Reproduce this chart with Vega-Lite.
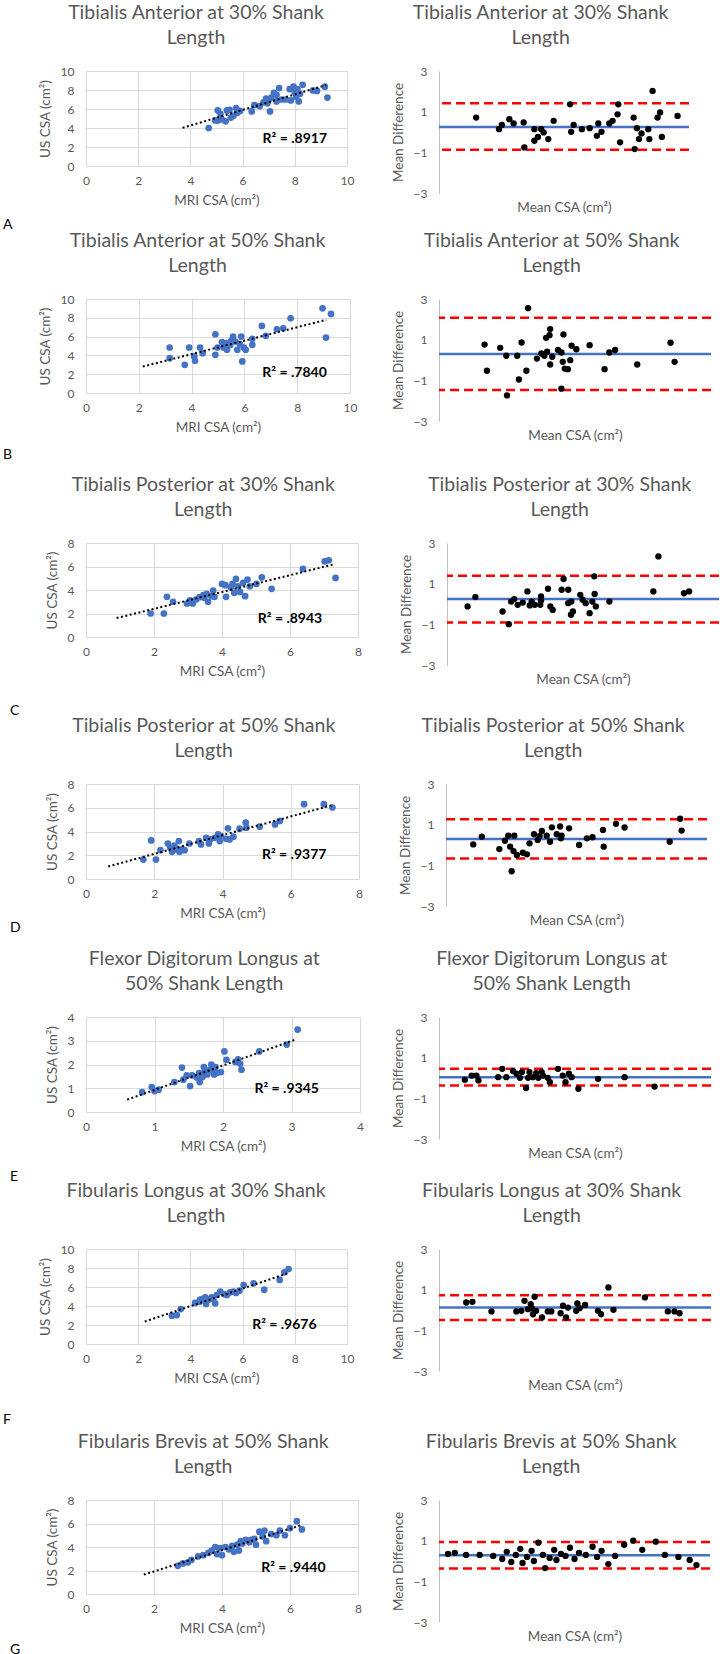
{
"$schema": "https://vega.github.io/schema/vega-lite/v6.json",
"background": "white",
"padding": {"left": 3, "top": 2, "right": 0, "bottom": 0},
"config": {
  "font": "Lato",
  "view": {"stroke": null},
  "axis": {"ticks": false, "labelColor": "#595959", "titleColor": "#595959", "labelFontSize": 12, "titleFontSize": 13.5, "titleFontWeight": "normal", "gridColor": "#d9d9d9", "gridWidth": 1, "labelFont": "Lato", "titleFont": "Lato", "labelOverlap": false, "labelFlush": false, "labelSeparation": 0, "format": "d"},
  "axisX": {"labelPadding": 9, "titlePadding": 7},
  "axisY": {"labelPadding": 12, "titlePadding": 8},
  "title": {"fontSize": 19.5, "fontWeight": "normal", "color": "#595959", "frame": "bounds", "lineHeight": 25, "font": "Lato"}
},
"datasets": {
"aL": [{"mri":4.7,"us":4.0},{"mri":4.95,"us":4.8},{"mri":5.05,"us":5.85},{"mri":5.05,"us":4.8},{"mri":5.15,"us":5.5},{"mri":5.2,"us":4.9},{"mri":5.35,"us":4.7},{"mri":5.4,"us":5.85},{"mri":5.5,"us":5.9},{"mri":5.55,"us":5.1},{"mri":5.65,"us":5.3},{"mri":5.75,"us":6.1},{"mri":5.8,"us":5.6},{"mri":5.9,"us":5.8},{"mri":6.35,"us":5.75},{"mri":6.45,"us":6.4},{"mri":6.65,"us":6.3},{"mri":6.8,"us":6.7},{"mri":6.9,"us":7.1},{"mri":6.95,"us":6.6},{"mri":7.0,"us":6.95},{"mri":7.05,"us":5.75},{"mri":7.1,"us":7.2},{"mri":7.2,"us":7.7},{"mri":7.3,"us":6.8},{"mri":7.3,"us":7.5},{"mri":7.4,"us":8.2},{"mri":7.5,"us":7.0},{"mri":7.65,"us":7.0},{"mri":7.8,"us":8.1},{"mri":7.85,"us":6.9},{"mri":7.95,"us":8.35},{"mri":8.0,"us":7.8},{"mri":8.05,"us":7.3},{"mri":8.1,"us":8.1},{"mri":8.15,"us":6.8},{"mri":8.2,"us":7.6},{"mri":8.3,"us":8.55},{"mri":8.7,"us":7.95},{"mri":8.85,"us":7.9},{"mri":9.15,"us":8.35},{"mri":9.25,"us":7.2}],
"aR": [{"mean":4.04,"diff":0.71},{"mean":4.68,"diff":0.14},{"mean":4.76,"diff":0.35},{"mean":4.97,"diff":0.63},{"mean":5.09,"diff":0.42},{"mean":5.37,"diff":0.47},{"mean":5.39,"diff":-0.76},{"mean":5.67,"diff":0.14},{"mean":5.67,"diff":-0.43},{"mean":5.77,"diff":-0.24},{"mean":5.86,"diff":0.14},{"mean":5.93,"diff":-0.02},{"mean":6.06,"diff":-0.35},{"mean":6.21,"diff":0.55},{"mean":6.67,"diff":1.36},{"mean":6.7,"diff":0.01},{"mean":6.77,"diff":0.35},{"mean":7.0,"diff":0.14},{"mean":7.22,"diff":0.19},{"mean":7.42,"diff":-0.19},{"mean":7.46,"diff":0.42},{"mean":7.55,"diff":0.01},{"mean":7.77,"diff":0.42},{"mean":7.86,"diff":0.55},{"mean":8.0,"diff":0.87},{"mean":8.02,"diff":1.36},{"mean":8.07,"diff":-0.51},{"mean":8.45,"diff":0.71},{"mean":8.48,"diff":-0.84},{"mean":8.54,"diff":0.19},{"mean":8.6,"diff":-0.35},{"mean":8.67,"diff":-0.07},{"mean":8.86,"diff":0.14},{"mean":8.89,"diff":-0.35},{"mean":8.98,"diff":2.02},{"mean":9.12,"diff":0.71},{"mean":9.19,"diff":0.96},{"mean":9.24,"diff":-0.24},{"mean":9.68,"diff":0.79}],
"bL": [{"mri":3.17,"us":4.84},{"mri":3.17,"us":3.71},{"mri":3.74,"us":3.0},{"mri":3.91,"us":4.84},{"mri":4.1,"us":3.89},{"mri":4.13,"us":3.43},{"mri":4.32,"us":4.84},{"mri":4.42,"us":4.24},{"mri":4.9,"us":6.25},{"mri":4.9,"us":4.06},{"mri":4.98,"us":4.84},{"mri":5.15,"us":5.41},{"mri":5.21,"us":4.84},{"mri":5.34,"us":5.3},{"mri":5.34,"us":4.6},{"mri":5.47,"us":5.12},{"mri":5.5,"us":5.55},{"mri":5.57,"us":6.0},{"mri":5.66,"us":5.48},{"mri":5.73,"us":4.59},{"mri":5.83,"us":5.19},{"mri":5.88,"us":6.0},{"mri":5.92,"us":3.36},{"mri":5.98,"us":4.84},{"mri":6.05,"us":4.59},{"mri":6.3,"us":5.76},{"mri":6.3,"us":5.12},{"mri":6.66,"us":7.14},{"mri":6.81,"us":6.08},{"mri":7.23,"us":6.78},{"mri":7.47,"us":6.89},{"mri":7.75,"us":7.95},{"mri":8.96,"us":9.01},{"mri":9.09,"us":5.9},{"mri":9.28,"us":8.41}],
"bR": [{"mean":3.34,"diff":0.76},{"mean":3.41,"diff":-0.53},{"mean":3.8,"diff":0.6},{"mean":3.98,"diff":0.21},{"mean":4.0,"diff":-1.74},{"mean":4.3,"diff":0.21},{"mean":4.35,"diff":-0.96},{"mean":4.43,"diff":0.86},{"mean":4.57,"diff":-0.53},{"mean":4.62,"diff":2.55},{"mean":4.88,"diff":0.07},{"mean":5.01,"diff":0.32},{"mean":5.1,"diff":0.21},{"mean":5.15,"diff":1.09},{"mean":5.18,"diff":0.41},{"mean":5.25,"diff":1.22},{"mean":5.27,"diff":1.52},{"mean":5.27,"diff":-0.22},{"mean":5.33,"diff":0.16},{"mean":5.5,"diff":0.49},{"mean":5.6,"diff":0.37},{"mean":5.6,"diff":-1.41},{"mean":5.64,"diff":-0.09},{"mean":5.66,"diff":1.26},{"mean":5.7,"diff":-0.42},{"mean":5.79,"diff":-0.45},{"mean":5.86,"diff":-0.01},{"mean":5.9,"diff":0.7},{"mean":6.04,"diff":0.53},{"mean":6.43,"diff":0.73},{"mean":6.87,"diff":-0.45},{"mean":7.01,"diff":0.37},{"mean":7.18,"diff":0.49},{"mean":7.83,"diff":-0.22},{"mean":8.81,"diff":0.85},{"mean":8.93,"diff":-0.09}],
"cL": [{"mri":1.9,"us":2.0},{"mri":2.29,"us":2.0},{"mri":2.38,"us":3.42},{"mri":2.56,"us":3.0},{"mri":2.97,"us":2.85},{"mri":3.06,"us":3.11},{"mri":3.14,"us":2.85},{"mri":3.24,"us":3.19},{"mri":3.34,"us":3.39},{"mri":3.45,"us":3.56},{"mri":3.48,"us":3.33},{"mri":3.55,"us":3.67},{"mri":3.59,"us":3.0},{"mri":3.69,"us":3.47},{"mri":3.74,"us":3.95},{"mri":3.78,"us":3.42},{"mri":4.0,"us":4.52},{"mri":4.1,"us":4.41},{"mri":4.12,"us":3.42},{"mri":4.26,"us":4.24},{"mri":4.31,"us":4.52},{"mri":4.36,"us":3.76},{"mri":4.41,"us":4.94},{"mri":4.47,"us":4.32},{"mri":4.53,"us":3.84},{"mri":4.62,"us":4.61},{"mri":4.68,"us":3.47},{"mri":4.75,"us":4.89},{"mri":4.82,"us":4.32},{"mri":5.01,"us":4.52},{"mri":5.17,"us":5.08},{"mri":5.46,"us":4.1},{"mri":6.38,"us":5.79},{"mri":7.02,"us":6.44},{"mri":7.14,"us":6.53},{"mri":7.34,"us":5.03}],
"cR": [{"mean":1.53,"diff":-0.12},{"mean":1.73,"diff":0.34},{"mean":2.43,"diff":-0.37},{"mean":2.59,"diff":-0.99},{"mean":2.65,"diff":0.12},{"mean":2.73,"diff":0.24},{"mean":2.82,"diff":-0.04},{"mean":2.95,"diff":0.07},{"mean":3.07,"diff":0.62},{"mean":3.13,"diff":-0.07},{"mean":3.18,"diff":0.12},{"mean":3.26,"diff":-0.04},{"mean":3.4,"diff":-0.04},{"mean":3.42,"diff":0.37},{"mean":3.42,"diff":0.17},{"mean":3.6,"diff":0.75},{"mean":3.66,"diff":-0.12},{"mean":3.72,"diff":-0.29},{"mean":3.95,"diff":0.7},{"mean":4.0,"diff":1.23},{"mean":4.12,"diff":0.7},{"mean":4.12,"diff":0.04},{"mean":4.2,"diff":0.12},{"mean":4.19,"diff":-0.53},{"mean":4.24,"diff":-0.37},{"mean":4.43,"diff":0.45},{"mean":4.49,"diff":0.21},{"mean":4.57,"diff":0.04},{"mean":4.67,"diff":-0.45},{"mean":4.74,"diff":0.12},{"mean":4.79,"diff":1.36},{"mean":4.8,"diff":0.49},{"mean":4.83,"diff":-0.12},{"mean":5.18,"diff":0.12},{"mean":6.31,"diff":0.62},{"mean":6.44,"diff":2.34},{"mean":7.1,"diff":0.53},{"mean":7.23,"diff":0.62}],
"dL": [{"mri":1.68,"us":1.64},{"mri":1.91,"us":3.25},{"mri":2.05,"us":1.64},{"mri":2.18,"us":2.43},{"mri":2.4,"us":2.99},{"mri":2.47,"us":2.63},{"mri":2.52,"us":2.29},{"mri":2.59,"us":2.82},{"mri":2.66,"us":2.49},{"mri":2.72,"us":3.19},{"mri":2.74,"us":2.29},{"mri":2.82,"us":2.49},{"mri":2.89,"us":2.43},{"mri":3.03,"us":2.99},{"mri":3.31,"us":3.19},{"mri":3.37,"us":2.91},{"mri":3.52,"us":3.47},{"mri":3.6,"us":2.99},{"mri":3.64,"us":3.33},{"mri":3.77,"us":3.47},{"mri":3.87,"us":3.76},{"mri":3.92,"us":3.19},{"mri":3.96,"us":3.62},{"mri":4.11,"us":3.39},{"mri":4.16,"us":4.27},{"mri":4.21,"us":3.33},{"mri":4.32,"us":3.56},{"mri":4.5,"us":4.24},{"mri":4.68,"us":4.75},{"mri":4.7,"us":4.32},{"mri":5.09,"us":4.41},{"mri":5.54,"us":4.6},{"mri":5.68,"us":4.89},{"mri":6.39,"us":6.3},{"mri":6.97,"us":6.3},{"mri":7.22,"us":6.02}],
"dR": [{"mean":1.73,"diff":0.03},{"mean":1.96,"diff":0.41},{"mean":2.43,"diff":-0.2},{"mean":2.58,"diff":0.21},{"mean":2.67,"diff":0.46},{"mean":2.72,"diff":-0.08},{"mean":2.76,"diff":-1.29},{"mean":2.83,"diff":0.46},{"mean":2.81,"diff":-0.3},{"mean":2.9,"diff":-0.49},{"mean":3.06,"diff":-0.38},{"mean":3.17,"diff":-0.46},{"mean":3.24,"diff":0.08},{"mean":3.36,"diff":0.53},{"mean":3.46,"diff":0.25},{"mean":3.51,"diff":0.44},{"mean":3.57,"diff":0.69},{"mean":3.7,"diff":0.46},{"mean":3.79,"diff":0.16},{"mean":3.84,"diff":0.87},{"mean":3.97,"diff":0.53},{"mean":4.06,"diff":0.91},{"mean":4.08,"diff":0.33},{"mean":4.1,"diff":0.46},{"mean":4.3,"diff":0.82},{"mean":4.57,"diff":0.0},{"mean":4.78,"diff":0.33},{"mean":4.93,"diff":0.38},{"mean":5.21,"diff":0.74},{"mean":5.23,"diff":-0.08},{"mean":5.56,"diff":1.04},{"mean":5.79,"diff":0.86},{"mean":7.0,"diff":0.16},{"mean":7.28,"diff":1.29},{"mean":7.32,"diff":0.71}],
"eL": [{"mri":0.82,"us":0.84},{"mri":0.96,"us":1.05},{"mri":1.0,"us":0.88},{"mri":1.06,"us":0.94},{"mri":1.29,"us":1.26},{"mri":1.4,"us":1.87},{"mri":1.42,"us":1.36},{"mri":1.47,"us":1.54},{"mri":1.52,"us":1.09},{"mri":1.55,"us":1.54},{"mri":1.62,"us":1.45},{"mri":1.65,"us":1.64},{"mri":1.66,"us":1.26},{"mri":1.7,"us":1.47},{"mri":1.72,"us":1.89},{"mri":1.73,"us":1.68},{"mri":1.77,"us":1.58},{"mri":1.79,"us":1.75},{"mri":1.83,"us":2.0},{"mri":1.86,"us":1.82},{"mri":1.87,"us":1.58},{"mri":1.89,"us":1.89},{"mri":1.91,"us":1.64},{"mri":1.97,"us":1.68},{"mri":2.02,"us":2.55},{"mri":2.05,"us":2.2},{"mri":2.18,"us":2.11},{"mri":2.22,"us":2.22},{"mri":2.25,"us":2.04},{"mri":2.27,"us":1.78},{"mri":2.53,"us":2.55},{"mri":2.93,"us":2.84},{"mri":3.09,"us":3.47}],
"eR": [{"mean":0.38,"diff":-0.09},{"mean":0.48,"diff":0.12},{"mean":0.55,"diff":0.12},{"mean":0.58,"diff":-0.12},{"mean":0.87,"diff":0.04},{"mean":0.93,"diff":0.45},{"mean":0.99,"diff":0.04},{"mean":1.09,"diff":0.34},{"mean":1.14,"diff":0.21},{"mean":1.19,"diff":0.01},{"mean":1.22,"diff":0.29},{"mean":1.28,"diff":-0.49},{"mean":1.31,"diff":0.01},{"mean":1.33,"diff":0.29},{"mean":1.38,"diff":0.04},{"mean":1.43,"diff":0.24},{"mean":1.46,"diff":0.01},{"mean":1.51,"diff":0.29},{"mean":1.53,"diff":0.12},{"mean":1.6,"diff":0.01},{"mean":1.63,"diff":-0.21},{"mean":1.75,"diff":0.45},{"mean":1.82,"diff":0.12},{"mean":1.86,"diff":-0.21},{"mean":1.91,"diff":0.21},{"mean":1.95,"diff":0.04},{"mean":2.05,"diff":-0.53},{"mean":2.34,"diff":-0.04},{"mean":2.73,"diff":0.04},{"mean":3.17,"diff":-0.42}],
"fL": [{"mri":3.29,"us":2.98},{"mri":3.48,"us":3.05},{"mri":3.63,"us":3.68},{"mri":4.18,"us":4.32},{"mri":4.35,"us":4.46},{"mri":4.37,"us":4.67},{"mri":4.48,"us":4.74},{"mri":4.57,"us":4.91},{"mri":4.6,"us":4.21},{"mri":4.69,"us":4.67},{"mri":4.82,"us":4.91},{"mri":4.88,"us":4.74},{"mri":4.95,"us":4.28},{"mri":5.01,"us":5.16},{"mri":5.14,"us":5.51},{"mri":5.29,"us":5.26},{"mri":5.4,"us":5.16},{"mri":5.52,"us":5.44},{"mri":5.65,"us":5.51},{"mri":5.75,"us":5.37},{"mri":5.88,"us":5.61},{"mri":6.04,"us":6.21},{"mri":6.42,"us":6.39},{"mri":6.83,"us":5.72},{"mri":7.42,"us":6.74},{"mri":7.6,"us":7.54},{"mri":7.76,"us":7.89}],
"fR": [{"mean":2.7,"diff":0.37},{"mean":2.86,"diff":0.4},{"mean":3.35,"diff":-0.07},{"mean":3.99,"diff":-0.07},{"mean":4.12,"diff":-0.04},{"mean":4.2,"diff":0.45},{"mean":4.29,"diff":0.04},{"mean":4.36,"diff":0.29},{"mean":4.39,"diff":0.09},{"mean":4.42,"diff":-0.21},{"mean":4.46,"diff":0.65},{"mean":4.5,"diff":-0.04},{"mean":4.65,"diff":-0.37},{"mean":4.8,"diff":-0.07},{"mean":4.89,"diff":-0.07},{"mean":5.13,"diff":-0.16},{"mean":5.19,"diff":0.21},{"mean":5.27,"diff":-0.37},{"mean":5.32,"diff":0.12},{"mean":5.53,"diff":-0.04},{"mean":5.56,"diff":0.32},{"mean":5.62,"diff":0.09},{"mean":5.76,"diff":0.25},{"mean":6.09,"diff":-0.04},{"mean":6.17,"diff":-0.21},{"mean":6.36,"diff":1.11},{"mean":6.49,"diff":0.01},{"mean":7.3,"diff":0.62},{"mean":7.89,"diff":-0.07},{"mean":8.06,"diff":-0.07},{"mean":8.19,"diff":-0.16}],
"gL": [{"mri":2.7,"us":2.4},{"mri":2.85,"us":2.6},{"mri":3.0,"us":2.7},{"mri":3.1,"us":2.9},{"mri":3.3,"us":3.2},{"mri":3.45,"us":3.3},{"mri":3.6,"us":3.5},{"mri":3.7,"us":3.7},{"mri":3.8,"us":4.0},{"mri":3.85,"us":3.4},{"mri":3.95,"us":3.9},{"mri":4.0,"us":3.3},{"mri":4.1,"us":4.0},{"mri":4.2,"us":3.8},{"mri":4.3,"us":4.1},{"mri":4.35,"us":3.6},{"mri":4.45,"us":4.2},{"mri":4.5,"us":3.7},{"mri":4.55,"us":4.5},{"mri":4.6,"us":4.3},{"mri":4.7,"us":4.6},{"mri":4.8,"us":4.4},{"mri":4.85,"us":4.6},{"mri":4.95,"us":4.7},{"mri":5.0,"us":4.2},{"mri":5.1,"us":5.3},{"mri":5.2,"us":4.9},{"mri":5.25,"us":5.4},{"mri":5.3,"us":4.5},{"mri":5.45,"us":5.1},{"mri":5.6,"us":5.0},{"mri":5.7,"us":5.4},{"mri":5.85,"us":5.0},{"mri":6.0,"us":5.6},{"mri":6.2,"us":6.2},{"mri":6.35,"us":5.5}],
"gR": [{"mean":2.2,"diff":0.35},{"mean":2.35,"diff":0.4},{"mean":2.6,"diff":0.3},{"mean":2.9,"diff":0.3},{"mean":3.2,"diff":0.25},{"mean":3.4,"diff":0.1},{"mean":3.5,"diff":0.45},{"mean":3.6,"diff":-0.05},{"mean":3.7,"diff":0.3},{"mean":3.8,"diff":0.6},{"mean":3.85,"diff":-0.1},{"mean":3.95,"diff":0.2},{"mean":4.05,"diff":0.5},{"mean":4.1,"diff":0.0},{"mean":4.2,"diff":0.9},{"mean":4.3,"diff":0.3},{"mean":4.35,"diff":-0.35},{"mean":4.45,"diff":0.15},{"mean":4.55,"diff":0.55},{"mean":4.6,"diff":0.05},{"mean":4.7,"diff":0.35},{"mean":4.8,"diff":0.25},{"mean":4.9,"diff":0.65},{"mean":5.0,"diff":0.1},{"mean":5.1,"diff":0.4},{"mean":5.25,"diff":0.3},{"mean":5.4,"diff":0.7},{"mean":5.5,"diff":0.2},{"mean":5.6,"diff":0.5},{"mean":5.75,"diff":-0.15},{"mean":5.9,"diff":0.25},{"mean":6.1,"diff":0.8},{"mean":6.3,"diff":1.0},{"mean":6.5,"diff":0.55},{"mean":6.8,"diff":0.95},{"mean":7.0,"diff":0.3},{"mean":7.3,"diff":0.2},{"mean":7.55,"diff":0.05},{"mean":7.7,"diff":-0.2}]
},
"spacing": -2,
"vconcat": [
{"bounds": "flush", "spacing": 92, "title": {"text": "A", "orient": "bottom", "anchor": "start", "fontSize": 14, "color": "#000000", "offset": 4.5, "dx": -35},
 "hconcat": [
  {"width": 261, "height": 95, "title": {"text": ["Tibialis Anterior at 30% Shank", "Length"], "offset": 16.5},
   "encoding": {"x": {"field": "mri", "type": "quantitative", "scale": {"domain": [0, 10], "nice": false}, "axis": {"title": "MRI CSA (cm²)", "values": [0, 2, 4, 6, 8, 10], "grid": true, "domain": false, "labelOverlap": false}},
                "y": {"field": "us", "type": "quantitative", "scale": {"domain": [0, 10], "nice": false}, "axis": {"title": "US CSA (cm²)", "values": [0, 2, 4, 6, 8, 10], "grid": true, "domain": false, "labelOverlap": false}}},
   "layer": [
    {"data": {"name": "aL"}, "mark": {"type": "circle", "size": 45, "color": "#4472C4", "opacity": 1}},
    {"data": {"name": "aL"}, "transform": [{"regression": "us", "on": "mri", "extent": [3.7, 9.2]}], "mark": {"type": "line", "color": "black", "strokeWidth": 2, "strokeDash": [2, 2.5]}},
    {"data": {"values": [{"label": "R² = .8917", "mri": 8.0, "us": 2.85}]}, "mark": {"type": "text", "fontWeight": "bold", "fontSize": 14, "color": "black"}, "encoding": {"text": {"field": "label"}}}
   ]},
  {"width": 250, "height": 122, "title": {"text": ["Tibialis Anterior at 30% Shank", "Length"], "offset": 17},
   "layer": [
    {"data": {"values": [{}]}, "mark": {"type": "rule", "color": "#4472C4", "strokeWidth": 2.5}, "encoding": {"y": {"datum": 0.25, "type": "quantitative"}}},
    {"data": {"values": [{}]}, "mark": {"type": "rule", "color": "#FF0000", "strokeWidth": 2.5, "strokeDash": [9, 5]}, "encoding": {"y": {"datum": 1.41, "type": "quantitative"}}},
    {"data": {"values": [{}]}, "mark": {"type": "rule", "color": "#FF0000", "strokeWidth": 2.5, "strokeDash": [9, 5]}, "encoding": {"y": {"datum": -0.87, "type": "quantitative"}}},
    {"data": {"name": "aR"}, "mark": {"type": "circle", "size": 40, "color": "black", "opacity": 1},
     "encoding": {"x": {"field": "mean", "type": "quantitative", "scale": {"domain": [3, 10], "nice": false}, "axis": {"title": "Mean CSA (cm²)", "labels": false, "domain": false, "grid": false}},
                  "y": {"field": "diff", "type": "quantitative", "scale": {"domain": [-3, 3], "nice": false}, "axis": {"title": "Mean Difference", "values": [-3, -1, 1, 3], "grid": false, "domain": true, "domainColor": "#bfbfbf", "labelOverlap": false}}}}
   ]}
 ]},
{"spacing": 12, "vconcat": [
{"bounds": "flush", "spacing": 89, "title": {"text": "B", "orient": "bottom", "anchor": "start", "fontSize": 14, "color": "#000000", "offset": 6.5, "dx": -35},
 "hconcat": [
  {"width": 264, "height": 94, "title": {"text": ["Tibialis Anterior at 50% Shank", "Length"], "offset": 16.5},
   "encoding": {"x": {"field": "mri", "type": "quantitative", "scale": {"domain": [0, 10], "nice": false}, "axis": {"title": "MRI CSA (cm²)", "values": [0, 2, 4, 6, 8, 10], "grid": true, "domain": false, "labelOverlap": false}},
                "y": {"field": "us", "type": "quantitative", "scale": {"domain": [0, 10], "nice": false}, "axis": {"title": "US CSA (cm²)", "values": [0, 2, 4, 6, 8, 10], "grid": true, "domain": false, "labelOverlap": false}}},
   "layer": [
    {"data": {"name": "bL"}, "mark": {"type": "circle", "size": 45, "color": "#4472C4", "opacity": 1}},
    {"data": {"name": "bL"}, "transform": [{"regression": "us", "on": "mri", "extent": [2.15, 9.1]}], "mark": {"type": "line", "color": "black", "strokeWidth": 2, "strokeDash": [2, 2.5]}},
    {"data": {"values": [{"label": "R² = .7840", "mri": 7.9, "us": 2.1}]}, "mark": {"type": "text", "fontWeight": "bold", "fontSize": 14, "color": "black"}, "encoding": {"text": {"field": "label"}}}
   ]},
  {"width": 272, "height": 122, "title": {"text": ["Tibialis Anterior at 50% Shank", "Length"], "offset": 17},
   "layer": [
    {"data": {"values": [{}]}, "mark": {"type": "rule", "color": "#4472C4", "strokeWidth": 2.5}, "encoding": {"y": {"datum": 0.3, "type": "quantitative"}}},
    {"data": {"values": [{}]}, "mark": {"type": "rule", "color": "#FF0000", "strokeWidth": 2.5, "strokeDash": [9, 5]}, "encoding": {"y": {"datum": 2.08, "type": "quantitative"}}},
    {"data": {"values": [{}]}, "mark": {"type": "rule", "color": "#FF0000", "strokeWidth": 2.5, "strokeDash": [9, 5]}, "encoding": {"y": {"datum": -1.47, "type": "quantitative"}}},
    {"data": {"name": "bR"}, "mark": {"type": "circle", "size": 40, "color": "black", "opacity": 1},
     "encoding": {"x": {"field": "mean", "type": "quantitative", "scale": {"domain": [2, 10], "nice": false}, "axis": {"title": "Mean CSA (cm²)", "labels": false, "domain": false, "grid": false}},
                  "y": {"field": "diff", "type": "quantitative", "scale": {"domain": [-3, 3], "nice": false}, "axis": {"title": "Mean Difference", "values": [-3, -1, 1, 3], "grid": false, "domain": true, "domainColor": "#bfbfbf", "labelOverlap": false}}}}
   ]}
 ]},
{"spacing": -3, "vconcat": [
{"bounds": "flush", "spacing": 89, "title": {"text": "C", "orient": "bottom", "anchor": "start", "fontSize": 14, "color": "#000000", "offset": 18.5, "dx": -35},
 "hconcat": [
  {"width": 272, "height": 94, "title": {"text": ["Tibialis Posterior at 30% Shank", "Length"], "offset": 17},
   "encoding": {"x": {"field": "mri", "type": "quantitative", "scale": {"domain": [0, 8], "nice": false}, "axis": {"title": "MRI CSA (cm²)", "values": [0, 2, 4, 6, 8], "grid": true, "domain": false, "labelOverlap": false}},
                "y": {"field": "us", "type": "quantitative", "scale": {"domain": [0, 8], "nice": false}, "axis": {"title": "US CSA (cm²)", "values": [0, 2, 4, 6, 8], "grid": true, "domain": false, "labelOverlap": false}}},
   "layer": [
    {"data": {"name": "cL"}, "mark": {"type": "circle", "size": 45, "color": "#4472C4", "opacity": 1}},
    {"data": {"name": "cL"}, "transform": [{"regression": "us", "on": "mri", "extent": [0.9, 7.3]}], "mark": {"type": "line", "color": "black", "strokeWidth": 2, "strokeDash": [2, 2.5]}},
    {"data": {"values": [{"label": "R² = .8943", "mri": 6.0, "us": 1.5}]}, "mark": {"type": "text", "fontWeight": "bold", "fontSize": 14, "color": "black"}, "encoding": {"text": {"field": "label"}}}
   ]},
  {"width": 272, "height": 122, "title": {"text": ["Tibialis Posterior at 30% Shank", "Length"], "offset": 17},
   "layer": [
    {"data": {"values": [{}]}, "mark": {"type": "rule", "color": "#4472C4", "strokeWidth": 2.5}, "encoding": {"y": {"datum": 0.24, "type": "quantitative"}}},
    {"data": {"values": [{}]}, "mark": {"type": "rule", "color": "#FF0000", "strokeWidth": 2.5, "strokeDash": [9, 5]}, "encoding": {"y": {"datum": 1.39, "type": "quantitative"}}},
    {"data": {"values": [{}]}, "mark": {"type": "rule", "color": "#FF0000", "strokeWidth": 2.5, "strokeDash": [9, 5]}, "encoding": {"y": {"datum": -0.91, "type": "quantitative"}}},
    {"data": {"name": "cR"}, "mark": {"type": "circle", "size": 40, "color": "black", "opacity": 1},
     "encoding": {"x": {"field": "mean", "type": "quantitative", "scale": {"domain": [1, 8], "nice": false}, "axis": {"title": "Mean CSA (cm²)", "labels": false, "domain": false, "grid": false}},
                  "y": {"field": "diff", "type": "quantitative", "scale": {"domain": [-3, 3], "nice": false}, "axis": {"title": "Mean Difference", "values": [-3, -1, 1, 3], "grid": false, "domain": true, "domainColor": "#bfbfbf", "labelOverlap": false}}}}
   ]}
 ]},
{"spacing": 13, "vconcat": [
{"bounds": "flush", "spacing": 87, "title": {"text": "D", "orient": "bottom", "anchor": "start", "fontSize": 14, "color": "#000000", "offset": -5.5, "dx": -35},
 "hconcat": [
  {"width": 273, "height": 95, "title": {"text": ["Tibialis Posterior at 50% Shank", "Length"], "offset": 17},
   "encoding": {"x": {"field": "mri", "type": "quantitative", "scale": {"domain": [0, 8], "nice": false}, "axis": {"title": "MRI CSA (cm²)", "values": [0, 2, 4, 6, 8], "grid": true, "domain": false, "labelOverlap": false}},
                "y": {"field": "us", "type": "quantitative", "scale": {"domain": [0, 8], "nice": false}, "axis": {"title": "US CSA (cm²)", "values": [0, 2, 4, 6, 8], "grid": true, "domain": false, "labelOverlap": false}}},
   "layer": [
    {"data": {"name": "dL"}, "mark": {"type": "circle", "size": 45, "color": "#4472C4", "opacity": 1}},
    {"data": {"name": "dL"}, "transform": [{"regression": "us", "on": "mri", "extent": [0.65, 7.2]}], "mark": {"type": "line", "color": "black", "strokeWidth": 2, "strokeDash": [2, 2.5]}},
    {"data": {"values": [{"label": "R² = .9377", "mri": 6.1, "us": 2.05}]}, "mark": {"type": "text", "fontWeight": "bold", "fontSize": 14, "color": "black"}, "encoding": {"text": {"field": "label"}}}
   ]},
  {"width": 261, "height": 122, "title": {"text": ["Tibialis Posterior at 50% Shank", "Length"], "offset": 17},
   "layer": [
    {"data": {"values": [{}]}, "mark": {"type": "rule", "color": "#4472C4", "strokeWidth": 2.5}, "encoding": {"y": {"datum": 0.3, "type": "quantitative"}}},
    {"data": {"values": [{}]}, "mark": {"type": "rule", "color": "#FF0000", "strokeWidth": 2.5, "strokeDash": [9, 5]}, "encoding": {"y": {"datum": 1.27, "type": "quantitative"}}},
    {"data": {"values": [{}]}, "mark": {"type": "rule", "color": "#FF0000", "strokeWidth": 2.5, "strokeDash": [9, 5]}, "encoding": {"y": {"datum": -0.66, "type": "quantitative"}}},
    {"data": {"name": "dR"}, "mark": {"type": "circle", "size": 40, "color": "black", "opacity": 1},
     "encoding": {"x": {"field": "mean", "type": "quantitative", "scale": {"domain": [1, 8], "nice": false}, "axis": {"title": "Mean CSA (cm²)", "labels": false, "domain": false, "grid": false}},
                  "y": {"field": "diff", "type": "quantitative", "scale": {"domain": [-3, 3], "nice": false}, "axis": {"title": "Mean Difference", "values": [-3, -1, 1, 3], "grid": false, "domain": true, "domainColor": "#bfbfbf", "labelOverlap": false}}}}
   ]}
 ]},
{"spacing": -4, "vconcat": [
{"bounds": "flush", "spacing": 79, "title": {"text": "E", "orient": "bottom", "anchor": "start", "fontSize": 14, "color": "#000000", "offset": 10.5, "dx": -35},
 "hconcat": [
  {"width": 274, "height": 95, "title": {"text": ["Flexor Digitorum Longus at", "50% Shank Length"], "offset": 17},
   "encoding": {"x": {"field": "mri", "type": "quantitative", "scale": {"domain": [0, 4], "nice": false}, "axis": {"title": "MRI CSA (cm²)", "values": [0, 1, 2, 3, 4], "grid": true, "domain": false, "labelOverlap": false}},
                "y": {"field": "us", "type": "quantitative", "scale": {"domain": [0, 4], "nice": false}, "axis": {"title": "US CSA (cm²)", "values": [0, 1, 2, 3, 4], "grid": true, "domain": false, "labelOverlap": false}}},
   "layer": [
    {"data": {"name": "eL"}, "mark": {"type": "circle", "size": 45, "color": "#4472C4", "opacity": 1}},
    {"data": {"name": "eL"}, "transform": [{"regression": "us", "on": "mri", "extent": [0.6, 3.05]}], "mark": {"type": "line", "color": "black", "strokeWidth": 2, "strokeDash": [2, 2.5]}},
    {"data": {"values": [{"label": "R² = .9345", "mri": 2.93, "us": 0.95}]}, "mark": {"type": "text", "fontWeight": "bold", "fontSize": 14, "color": "black"}, "encoding": {"text": {"field": "label"}}}
   ]},
  {"width": 272, "height": 122, "title": {"text": ["Flexor Digitorum Longus at", "50% Shank Length"], "offset": 17},
   "layer": [
    {"data": {"values": [{}]}, "mark": {"type": "rule", "color": "#4472C4", "strokeWidth": 2.5}, "encoding": {"y": {"datum": 0.04, "type": "quantitative"}}},
    {"data": {"values": [{}]}, "mark": {"type": "rule", "color": "#FF0000", "strokeWidth": 2.5, "strokeDash": [9, 5]}, "encoding": {"y": {"datum": 0.45, "type": "quantitative"}}},
    {"data": {"values": [{}]}, "mark": {"type": "rule", "color": "#FF0000", "strokeWidth": 2.5, "strokeDash": [9, 5]}, "encoding": {"y": {"datum": -0.37, "type": "quantitative"}}},
    {"data": {"name": "eR"}, "mark": {"type": "circle", "size": 40, "color": "black", "opacity": 1},
     "encoding": {"x": {"field": "mean", "type": "quantitative", "scale": {"domain": [0, 4], "nice": false}, "axis": {"title": "Mean CSA (cm²)", "labels": false, "domain": false, "grid": false}},
                  "y": {"field": "diff", "type": "quantitative", "scale": {"domain": [-3, 3], "nice": false}, "axis": {"title": "Mean Difference", "values": [-3, -1, 1, 3], "grid": false, "domain": true, "domainColor": "#bfbfbf", "labelOverlap": false}}}}
   ]}
 ]},
{"spacing": 4, "vconcat": [
{"bounds": "flush", "spacing": 92, "title": {"text": "F", "orient": "bottom", "anchor": "start", "fontSize": 14, "color": "#000000", "offset": 21.5, "dx": -35},
 "hconcat": [
  {"width": 261, "height": 95, "title": {"text": ["Fibularis Longus at 30% Shank", "Length"], "offset": 16.5},
   "encoding": {"x": {"field": "mri", "type": "quantitative", "scale": {"domain": [0, 10], "nice": false}, "axis": {"title": "MRI CSA (cm²)", "values": [0, 2, 4, 6, 8, 10], "grid": true, "domain": false, "labelOverlap": false}},
                "y": {"field": "us", "type": "quantitative", "scale": {"domain": [0, 10], "nice": false}, "axis": {"title": "US CSA (cm²)", "values": [0, 2, 4, 6, 8, 10], "grid": true, "domain": false, "labelOverlap": false}}},
   "layer": [
    {"data": {"name": "fL"}, "mark": {"type": "circle", "size": 45, "color": "#4472C4", "opacity": 1}},
    {"data": {"name": "fL"}, "transform": [{"regression": "us", "on": "mri", "extent": [2.25, 7.75]}], "mark": {"type": "line", "color": "black", "strokeWidth": 2, "strokeDash": [2, 2.5]}},
    {"data": {"values": [{"label": "R² = .9676", "mri": 7.6, "us": 1.95}]}, "mark": {"type": "text", "fontWeight": "bold", "fontSize": 14, "color": "black"}, "encoding": {"text": {"field": "label"}}}
   ]},
  {"width": 272, "height": 122, "title": {"text": ["Fibularis Longus at 30% Shank", "Length"], "offset": 17},
   "layer": [
    {"data": {"values": [{}]}, "mark": {"type": "rule", "color": "#4472C4", "strokeWidth": 2.5}, "encoding": {"y": {"datum": 0.12, "type": "quantitative"}}},
    {"data": {"values": [{}]}, "mark": {"type": "rule", "color": "#FF0000", "strokeWidth": 2.5, "strokeDash": [9, 5]}, "encoding": {"y": {"datum": 0.73, "type": "quantitative"}}},
    {"data": {"values": [{}]}, "mark": {"type": "rule", "color": "#FF0000", "strokeWidth": 2.5, "strokeDash": [9, 5]}, "encoding": {"y": {"datum": -0.49, "type": "quantitative"}}},
    {"data": {"name": "fR"}, "mark": {"type": "circle", "size": 40, "color": "black", "opacity": 1},
     "encoding": {"x": {"field": "mean", "type": "quantitative", "scale": {"domain": [2, 9], "nice": false}, "axis": {"title": "Mean CSA (cm²)", "labels": false, "domain": false, "grid": false}},
                  "y": {"field": "diff", "type": "quantitative", "scale": {"domain": [-3, 3], "nice": false}, "axis": {"title": "Mean Difference", "values": [-3, -1, 1, 3], "grid": false, "domain": true, "domainColor": "#bfbfbf", "labelOverlap": false}}}}
   ]}
 ]},
{"bounds": "flush", "spacing": 81, "title": {"text": "G", "orient": "bottom", "anchor": "start", "fontSize": 14, "color": "#000000", "offset": 0, "dx": -35},
 "hconcat": [
  {"width": 272, "height": 94, "title": {"text": ["Fibularis Brevis at 50% Shank", "Length"], "offset": 17},
   "encoding": {"x": {"field": "mri", "type": "quantitative", "scale": {"domain": [0, 8], "nice": false}, "axis": {"title": "MRI CSA (cm²)", "values": [0, 2, 4, 6, 8], "grid": true, "domain": false, "labelOverlap": false}},
                "y": {"field": "us", "type": "quantitative", "scale": {"domain": [0, 8], "nice": false}, "axis": {"title": "US CSA (cm²)", "values": [0, 2, 4, 6, 8], "grid": true, "domain": false, "labelOverlap": false}}},
   "layer": [
    {"data": {"name": "gL"}, "mark": {"type": "circle", "size": 45, "color": "#4472C4", "opacity": 1}},
    {"data": {"name": "gL"}, "transform": [{"regression": "us", "on": "mri", "extent": [1.7, 6.3]}], "mark": {"type": "line", "color": "black", "strokeWidth": 2, "strokeDash": [2, 2.5]}},
    {"data": {"values": [{"label": "R² = .9440", "mri": 6.1, "us": 2.2}]}, "mark": {"type": "text", "fontWeight": "bold", "fontSize": 14, "color": "black"}, "encoding": {"text": {"field": "label"}}}
   ]},
  {"width": 271, "height": 122, "title": {"text": ["Fibularis Brevis at 50% Shank", "Length"], "offset": 17},
   "layer": [
    {"data": {"values": [{}]}, "mark": {"type": "rule", "color": "#4472C4", "strokeWidth": 2.5}, "encoding": {"y": {"datum": 0.28, "type": "quantitative"}}},
    {"data": {"values": [{}]}, "mark": {"type": "rule", "color": "#FF0000", "strokeWidth": 2.5, "strokeDash": [9, 5]}, "encoding": {"y": {"datum": 0.93, "type": "quantitative"}}},
    {"data": {"values": [{}]}, "mark": {"type": "rule", "color": "#FF0000", "strokeWidth": 2.5, "strokeDash": [9, 5]}, "encoding": {"y": {"datum": -0.37, "type": "quantitative"}}},
    {"data": {"name": "gR"}, "mark": {"type": "circle", "size": 40, "color": "black", "opacity": 1},
     "encoding": {"x": {"field": "mean", "type": "quantitative", "scale": {"domain": [2, 8], "nice": false}, "axis": {"title": "Mean CSA (cm²)", "labels": false, "domain": false, "grid": false}},
                  "y": {"field": "diff", "type": "quantitative", "scale": {"domain": [-3, 3], "nice": false}, "axis": {"title": "Mean Difference", "values": [-3, -1, 1, 3], "grid": false, "domain": true, "domainColor": "#bfbfbf", "labelOverlap": false}}}}
   ]}
 ]}
]}]}]}]}]}]
}
